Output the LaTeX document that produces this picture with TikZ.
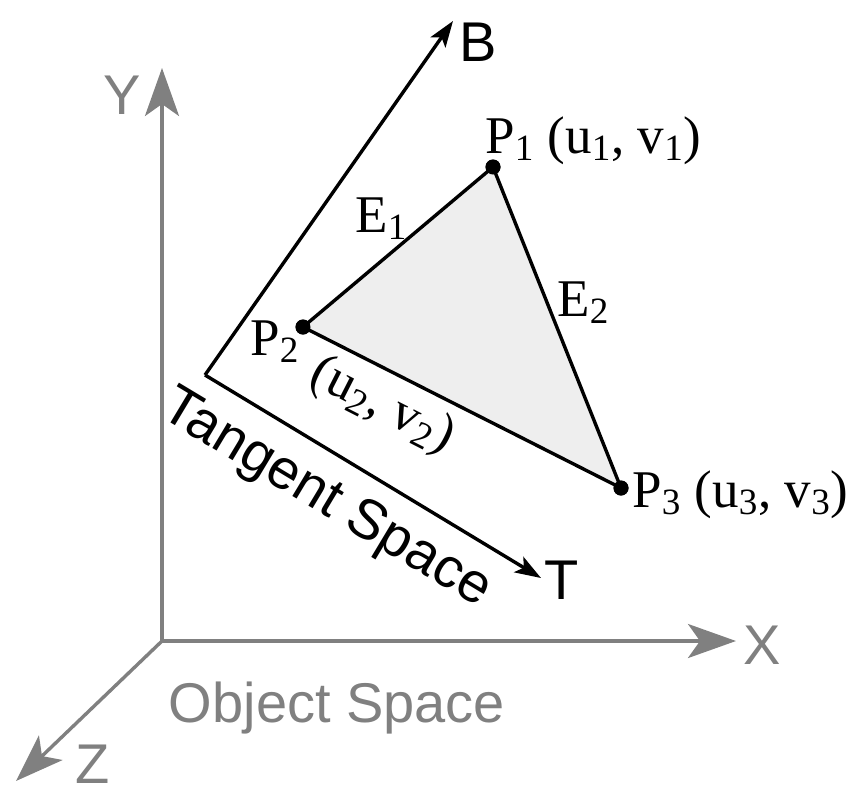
\documentclass[tikz,border=0pt]{standalone}
\usepackage{fontspec}
\setmainfont{Liberation Serif}
\setsansfont{Liberation Sans}
\usetikzlibrary{arrows.meta}
\definecolor{axisgray}{RGB}{128,128,128}
\definecolor{trifill}{RGB}{238,238,238}
\begin{document}
\begin{tikzpicture}[x=0.5pt,y=-0.5pt,
 objaxis/.style={axisgray,line width=1.7pt,-{Stealth[length=24pt,width=17pt,inset=6pt]}},
 tanaxis/.style={black,line width=1.7pt,-{Stealth[length=13pt,width=9pt,inset=3pt]}},
 vertex/.style={circle,fill=black,inner sep=0pt,minimum size=7.5pt},
 sanstext/.style={font=\sffamily\fontsize{28}{30}\selectfont,inner sep=0pt},
 seriftext/.style={font=\rmfamily\fontsize{26.5}{28}\selectfont,inner sep=0pt}]
 \useasboundingbox (0,0) rectangle (853,789);
 \coordinate (O) at (162,641);
 \coordinate (Xtip) at (736,641);
 \coordinate (Ytip) at (162,68);
 \coordinate (Ztip) at (16,781);
 \coordinate (C) at (205,375);
 \coordinate (Btip) at (453,21);
 \coordinate (Ttip) at (541,578);
 \draw[objaxis] (O)--(Xtip);
 \draw[objaxis] (O)--(Ytip);
 \draw[objaxis] (O)--(Ztip);
 \node[sanstext,axisgray] (Xlabel) at (762,645) {X};
 \node[sanstext,axisgray] (Ylabel) at (122,95) {Y};
 \node[sanstext,axisgray] (Zlabel) at (93,764) {Z};
 \node[sanstext,axisgray] (objlabel) at (337,708) {Object Space};
 \draw[tanaxis] (C)--(Btip);
 \draw[tanaxis] (C)--(Ttip);
 \node[sanstext] (Blabel) at (478,42) {B};
 \node[sanstext] (Tlabel) at (562,580) {T};
 \node[sanstext,rotate=-31] (tanlabel) at (326,500) {Tangent Space};
 \node[vertex] (P1) at (493,167) {};
 \node[vertex] (P2) at (303,327) {};
 \node[vertex] (P3) at (621,488) {};
 \fill[trifill] (P1.center)--(P2.center)--(P3.center)--cycle;
 \draw[line width=1.7pt,line join=round] (P1.center)--(P2.center)--(P3.center)--cycle;
 \node[vertex] at (P1) {};
 \node[vertex] at (P2) {};
 \node[vertex] at (P3) {};
 \node[seriftext,anchor=base west] (P1label) at (485,153) {P\textsubscript{1} (u\textsubscript{1}, v\textsubscript{1})};
 \node[seriftext,anchor=base west] (P3label) at (632,507) {P\textsubscript{3} (u\textsubscript{3}, v\textsubscript{3})};
 \node[seriftext,anchor=base west] (P2label) at (250,355) {P\textsubscript{2}};
 \node[seriftext,rotate=-27] (uvlabel) at (382,406) {(u\textsubscript{2}, v\textsubscript{2})};
 \node[seriftext,anchor=base west] (E1label) at (355,232) {E\textsubscript{1}};
 \node[seriftext,anchor=base west] (E2label) at (557,316) {E\textsubscript{2}};
\end{tikzpicture}
\end{document}
